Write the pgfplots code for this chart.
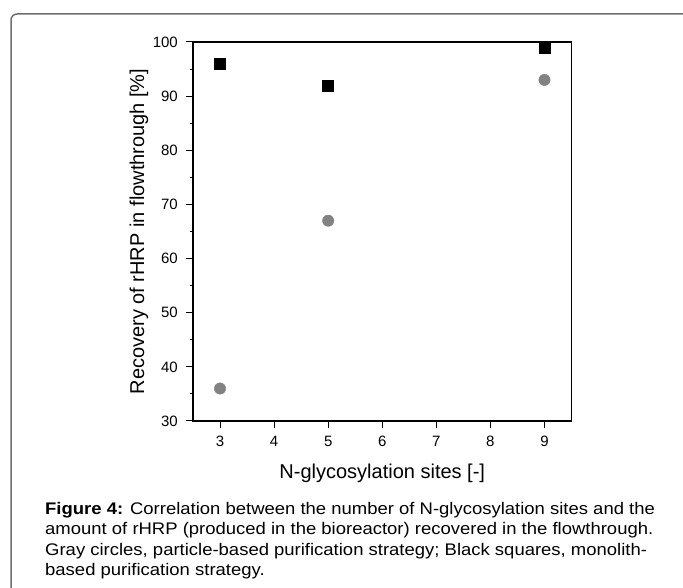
\documentclass[border=0pt]{standalone}
\usepackage{fontspec}
\setmainfont{Liberation Sans}
\newfontfamily\capfont[FakeStretch=1.1]{Liberation Sans}
\usepackage{pgfplots}
\pgfplotsset{compat=1.18}

\definecolor{dotgray}{RGB}{130,130,130}
\definecolor{framegray}{RGB}{110,110,110}

\begin{document}
\begin{tikzpicture}
\useasboundingbox (0,0) rectangle (683bp,588bp);

% frame round the figure, cut by the page on the right and at the bottom
\draw[framegray, line width=1.5bp, rounded corners=6bp]
  (11bp,-20bp) -- (11bp,574bp) -- (720bp,574bp);

\begin{axis}[
  at={(193bp,167bp)}, anchor=south west,
  scale only axis, width=378.5bp, height=379bp,
  xmin=2.5, xmax=9.5,
  ymin=30, ymax=100,
  xtick={3,4,5,6,7,8,9},
  ytick={30,40,50,60,70,80,90,100},
  minor y tick num=1,
  tick align=outside,
  xtick pos=bottom, ytick pos=left,
  major tick length=7bp, minor tick length=3.5bp,
  axis line style={line width=1.2bp},
  every tick/.style={black, line width=1bp},
  /pgf/number format/assume math mode=true,
  xticklabel style={font=\fontsize{15bp}{17bp}\selectfont, inner sep=0pt, anchor=north, yshift=-8bp},
  yticklabel style={font=\fontsize{15bp}{17bp}\selectfont, inner sep=0pt, anchor=east, xshift=-8bp},
  xlabel={N-glycosylation sites [-]},
  ylabel={Recovery of rHRP in flowthrough [\%]},
  label style={font=\fontsize{20bp}{24bp}\selectfont, inner sep=0pt},
  xlabel style={at={(axis description cs:0.5,0)}, anchor=base, yshift=-57bp},
  ylabel style={at={(axis description cs:-0.1427,0.5)}, anchor=center},
  clip=false,
]
% gray circles: particle-based purification
\addplot[only marks, mark=*, mark size=5.7bp, draw=dotgray, fill=dotgray] coordinates {
  (3,36) (5,67) (9,93)
};
% black squares: monolith-based purification
\addplot[only marks, mark=square*, mark size=5.5bp, draw=black, fill=black] coordinates {
  (3,96) (5,92) (9,99)
};
\end{axis}

% caption, one node per line
\begin{scope}[every node/.style={anchor=base west, inner sep=0pt, font=\capfont\fontsize{16.8bp}{20bp}\selectfont}]
\node at (45bp,73bp) {\textbf{Figure 4:} Correlation between the number of N-glycosylation sites and the};
\node at (45bp,53bp) {amount of rHRP (produced in the bioreactor) recovered in the flowthrough.};
\node at (45bp,33bp) {Gray circles, particle-based purification strategy; Black squares, monolith-};
\node at (45bp,13bp) {based purification strategy.};
\end{scope}
\end{tikzpicture}
\end{document}
